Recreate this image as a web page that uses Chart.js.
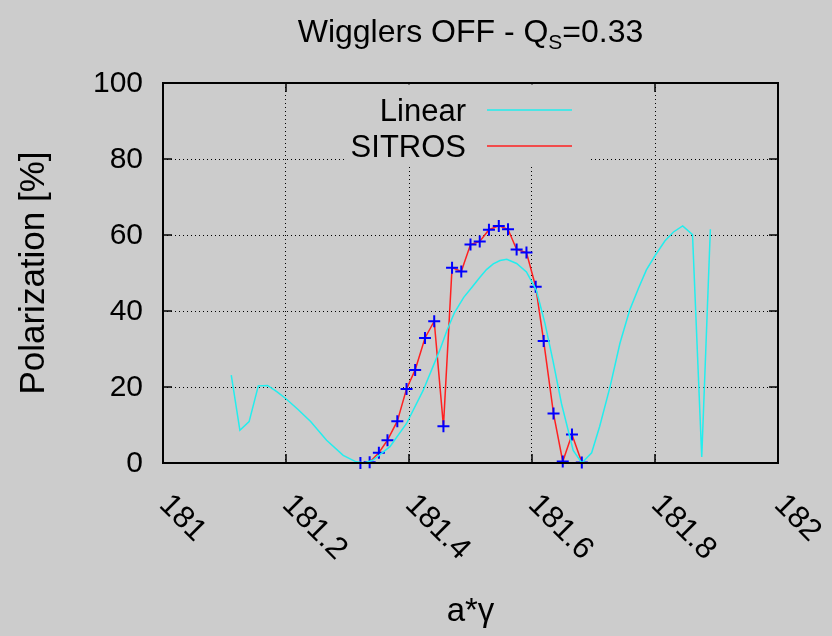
<!DOCTYPE html>
<html>
<head>
<meta charset="utf-8">
<script src="https://cdn.jsdelivr.net/npm/chart.js@4.4.0/dist/chart.umd.min.js"></script>
<style>
  html, body { margin: 0; padding: 0; background: #cccccc; }
  #wrap { width: 832px; height: 636px; }
</style>
</head>
<body>
<div id="wrap"><canvas id="grafico" width="832" height="636"></canvas></div>
<script>
// SITROS simulation points
const sitrosX = [181.321, 181.336, 181.351, 181.365, 181.381, 181.396, 181.410, 181.426, 181.441, 181.456,
  181.470, 181.485, 181.500, 181.515, 181.530, 181.546, 181.561, 181.575, 181.591, 181.606,
  181.619, 181.635, 181.650, 181.665, 181.681];
const sitrosY = [0.0, 0.2, 2.7, 6.0, 11.0, 19.5, 24.5, 32.9, 37.3, 9.7,
  51.4, 50.4, 57.5, 58.3, 61.4, 62.4, 61.5, 56.2, 55.4, 46.4,
  32.1, 13.0, 0.4, 7.5, 0.1];

// linear calculation
const linearX = [181.111, 181.125, 181.140, 181.155, 181.170, 181.185, 181.200, 181.220, 181.240, 181.266,
  181.293, 181.314, 181.327, 181.341, 181.369, 181.396, 181.423, 181.450, 181.462, 181.474,
  181.489, 181.504, 181.515, 181.526, 181.537, 181.548, 181.559, 181.575, 181.591, 181.607,
  181.621, 181.634, 181.648, 181.667, 181.681, 181.697, 181.710, 181.727, 181.743, 181.759,
  181.773, 181.786, 181.801, 181.816, 181.830, 181.845, 181.861, 181.876, 181.890];
const linearY = [23.1, 8.6, 10.9, 20.3, 20.4, 18.8, 16.9, 14.0, 10.9, 6.0,
  2.0, 0.3, 0.0, 0.7, 4.3, 10.4, 19.1, 29.7, 35.0, 39.6,
  43.6, 46.6, 48.8, 50.9, 52.4, 53.3, 53.6, 52.5, 50.3, 45.5,
  36.8, 27.0, 15.6, 3.3, 0.0, 2.7, 9.6, 20.1, 31.5, 40.3,
  45.9, 50.8, 54.8, 58.4, 60.8, 62.4, 60.1, 1.6, 61.5];

const xMin = 181, xMax = 182, xStep = 0.2;
const yMin = 0, yMax = 100, yStep = 20;

const FONT = "'Liberation Sans', Arial, sans-serif";

// grid only on inner ticks
function gridColor(ctx) {
  const n = ctx.scale.ticks.length;
  return (ctx.index === 0 || ctx.index === n - 1) ? "rgba(0,0,0,0)" : "#000";
}

// draws frame, tick labels, titles and the legend like gnuplot does
const decor = {
  id: "decor",
  beforeDraw(chart) {
    const c = chart.ctx;
    c.save();
    c.fillStyle = "#cccccc";
    c.fillRect(0, 0, chart.width, chart.height);
    c.restore();
  },
  afterDraw(chart) {
    const c = chart.ctx;
    const a = chart.chartArea;
    const xs = chart.scales.x, ys = chart.scales.y;
    c.save();
    c.strokeStyle = "#000";
    c.lineWidth = 2;
    c.strokeRect(a.left, a.top, a.right - a.left, a.bottom - a.top);

    // inward tick marks on all sides
    c.lineWidth = 1.5;
    c.beginPath();
    xs.ticks.forEach(t => {
      const px = xs.getPixelForValue(t.value);
      c.moveTo(px, a.bottom); c.lineTo(px, a.bottom - 9);
      c.moveTo(px, a.top); c.lineTo(px, a.top + 9);
    });
    ys.ticks.forEach(t => {
      const py = ys.getPixelForValue(t.value);
      c.moveTo(a.left, py); c.lineTo(a.left + 9, py);
      c.moveTo(a.right, py); c.lineTo(a.right - 9, py);
    });
    c.stroke();

    c.fillStyle = "#000";
    // y tick labels
    c.font = "30px " + FONT;
    c.textAlign = "right";
    c.textBaseline = "middle";
    ys.ticks.forEach(t => {
      c.fillText(String(Math.round(t.value)), a.left - 20, ys.getPixelForValue(t.value) + 1);
    });

    // x tick labels, rotated -45 (gnuplot style)
    c.textAlign = "left";
    c.font = "31px " + FONT;
    xs.ticks.forEach(t => {
      const px = xs.getPixelForValue(t.value);
      c.save();
      c.translate(px + 1, a.bottom + 37);
      c.rotate(Math.PI / 4);
      c.fillText(String(parseFloat(t.value.toFixed(1))), 0, 0);
      c.restore();
    });

    // axis titles
    c.font = "33px " + FONT;
    c.textAlign = "center";
    c.fillText("a*\u03b3", (a.left + a.right) / 2, 612);
    c.save();
    c.font = "35px " + FONT;
    c.translate(34, (a.top + a.bottom) / 2);
    c.rotate(-Math.PI / 2);
    c.fillText("Polarization [%]", 0, 0);
    c.restore();

    // title with subscript
    const p1 = "Wigglers OFF - Q", sub = "S", p2 = "=0.33";
    c.textBaseline = "alphabetic";
    c.textAlign = "left";
    c.font = "32px " + FONT;
    const w1 = c.measureText(p1).width, w3 = c.measureText(p2).width;
    c.font = "21px " + FONT;
    const w2 = c.measureText(sub).width;
    let tx = (a.left + a.right) / 2 - (w1 + w2 + w3) / 2;
    const ty = 42;
    c.font = "32px " + FONT;
    c.fillText(p1, tx, ty);
    c.font = "21px " + FONT;
    c.fillText(sub, tx + w1, ty + 7);
    c.font = "32px " + FONT;
    c.fillText(p2, tx + w1 + w2, ty);

    // legend box (opaque, no frame)
    c.fillStyle = "#cccccc";
    c.fillRect(344, a.top + 1.5, 244, 80);
    c.fillStyle = "#000";
    c.font = "31px " + FONT;
    c.textAlign = "right";
    const items = chart.data.datasets.map(d => ({ label: d.label, color: d.borderColor }));
    items.forEach((it, i) => {
      const yy = 121 + i * 36;
      c.fillText(it.label, 466, yy);
      c.strokeStyle = it.color;
      c.lineWidth = 1.5;
      c.beginPath();
      c.moveTo(487, yy - 11);
      c.lineTo(572, yy - 11);
      c.stroke();
    });
    c.restore();
  }
};

const ctx = document.getElementById("grafico").getContext("2d");
new Chart(ctx, {
  type: "line",
  data: {
    datasets: [
      {
        label: "Linear",
        data: linearX.map((x, i) => ({ x: x, y: linearY[i] })),
        borderColor: "#22eeee",
        borderWidth: 1.5,
        pointRadius: 0,
        tension: 0,
      },
      {
        label: "SITROS",
        data: sitrosX.map((x, i) => ({ x: x, y: sitrosY[i] })),
        borderColor: "#ff2020",
        borderWidth: 1.5,
        pointStyle: "cross",
        pointRadius: 6,
        pointBorderColor: "#0000ff",
        pointBorderWidth: 2,
        tension: 0,
        clip: false,
      },
    ],
  },
  options: {
    responsive: false,
    animation: false,
    layout: { padding: { left: 163, right: 54, top: 83, bottom: 173 } },
    plugins: { legend: { display: false }, tooltip: { enabled: false } },
    scales: {
      x: {
        type: "linear",
        min: xMin, max: xMax,
        ticks: { display: false, stepSize: xStep },
        grid: { color: gridColor, lineWidth: 1, drawTicks: false, tickLength: 0 },
        border: { display: false, dash: [1, 3] },
      },
      y: {
        min: yMin, max: yMax,
        ticks: { display: false, stepSize: yStep },
        grid: { color: gridColor, lineWidth: 1, drawTicks: false, tickLength: 0 },
        border: { display: false, dash: [1, 3] },
      },
    },
  },
  plugins: [decor],
});
</script>
</body>
</html>
